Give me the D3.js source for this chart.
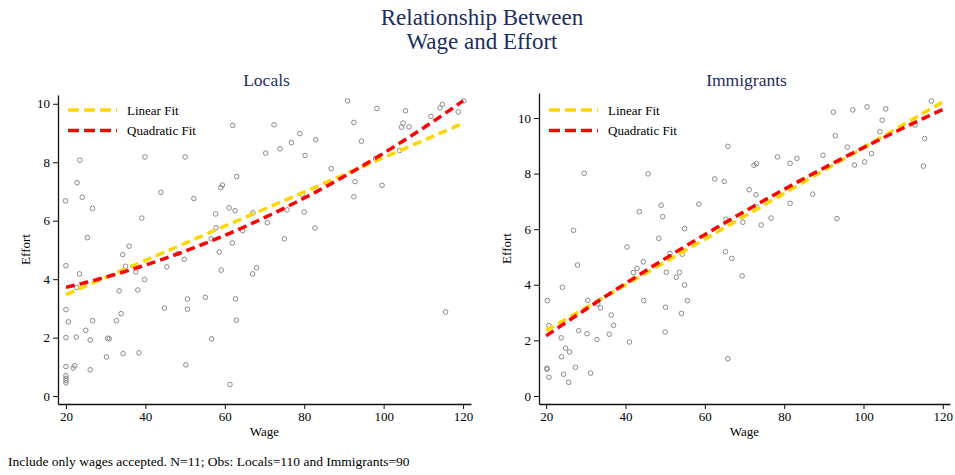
<!DOCTYPE html>
<html>
<head>
<meta charset="utf-8">
<script src="https://cdn.jsdelivr.net/npm/d3@7"></script>
<style>
  body { margin: 0; background: #fff; }
  svg text { font-family: "Liberation Serif", "Times New Roman", serif; }
</style>
</head>
<body>
<div id="chart"></div>
<script>
//Datos: salario (wage) y esfuerzo (effort)
const localsWage = [62.0, 23.5, 39.9, 50.0, 22.8, 19.9, 24.1, 26.7, 43.9, 52.2, 63.0, 59.4, 59.0, 61.1, 62.6, 57.7, 57.8, 67.1, 64.5, 56.6, 61.9, 25.4, 35.9, 39.1,
  90.9, 98.3, 105.5, 120.2, 114.8, 114.2, 118.8, 111.9, 92.5, 104.9, 104.5, 106.4, 72.4, 78.9, 76.8, 82.9, 73.9, 70.3, 80.2, 94.4, 104.0, 98.0, 86.8, 92.8, 99.6, 92.5, 79.5, 75.7, 70.7, 80.0, 82.7, 75.0,
  34.3, 20.0, 35.0, 23.4, 22.7, 37.6, 39.8, 33.4, 38.1, 48.2, 49.8, 45.4, 58.6, 59.1, 67.0, 68.0, 20.0, 20.6, 26.7, 32.7, 33.9, 44.8, 50.6, 50.6, 55.1, 62.7, 62.9, 25.0, 20.0, 22.6, 26.1, 30.5, 30.9, 56.7, 30.2, 34.4, 38.4, 20.0, 21.8, 22.2, 26.1, 50.2, 20.0, 20.0, 20.0, 20.0, 61.3,
  115.6];
const localsEffort = [9.26, 8.07, 8.18, 8.18, 7.30, 6.68, 6.80, 6.42, 6.97, 6.76, 7.51, 7.22, 7.13, 6.44, 6.34, 6.23, 5.76, 6.27, 5.66, 5.38, 5.24, 5.42, 5.13, 6.09,
  10.10, 9.84, 9.76, 10.10, 9.98, 9.86, 9.72, 9.57, 9.36, 9.34, 9.20, 9.21, 9.28, 8.98, 8.67, 8.77, 8.46, 8.31, 8.23, 8.72, 8.40, 8.12, 7.78, 7.34, 7.21, 6.82, 6.90, 6.37, 5.93, 6.30, 5.75, 5.38,
  4.84, 4.46, 4.44, 4.18, 3.72, 4.25, 3.99, 3.60, 3.63, 4.88, 4.68, 4.42, 4.93, 4.31, 4.18, 4.39, 2.96, 2.54, 2.58, 2.58, 2.82, 3.01, 3.32, 2.97, 3.38, 3.33, 2.60, 2.25, 2.00, 2.02, 1.92, 1.98, 1.96, 1.96, 1.34, 1.45, 1.48, 1.01, 0.96, 1.04, 0.90, 1.07, 0.70, 0.61, 0.53, 0.45, 0.40,
  2.88];

const immigWage = [65.8, 29.6, 45.7, 62.5, 64.9, 43.5, 49.0, 49.4, 58.5, 65.3, 26.9, 54.9, 48.4, 40.4, 65.2,
  117.1, 92.4, 97.3, 100.9, 105.6, 104.7, 104.1, 92.9, 113.0, 115.4, 115.1, 95.9, 102.0, 100.3, 97.7, 89.8, 78.3, 83.2, 81.5, 72.4, 73.0, 71.2, 72.9, 73.0, 87.2, 81.5, 76.7, 69.6, 74.2, 93.3,
  66.8, 69.4,
  27.9, 44.5, 51.2, 54.3, 42.9, 42.0, 50.3, 53.6, 52.8, 54.9, 24.1, 20.3, 30.5, 44.6, 55.6, 33.7, 50.1, 33.0, 36.4, 37.0, 54.1, 20.7, 28.2, 30.3, 35.9, 50.0, 23.8, 32.8, 41.0, 24.9, 25.9, 23.9, 27.4, 20.2, 20.2, 24.4, 31.2, 20.7, 25.7, 65.8];
const immigEffort = [8.98, 8.01, 7.99, 7.81, 7.72, 6.63, 6.86, 6.45, 6.90, 6.36, 5.96, 6.02, 5.67, 5.36, 5.19,
  10.61, 10.21, 10.29, 10.40, 10.33, 9.92, 9.51, 9.36, 9.75, 9.26, 8.27, 8.95, 8.72, 8.42, 8.31, 8.66, 8.60, 8.55, 8.37, 8.30, 8.36, 7.42, 7.24, 6.80, 7.26, 6.93, 6.40, 6.25, 6.15, 6.38,
  4.95, 4.32,
  4.71, 4.83, 5.13, 5.10, 4.59, 4.44, 4.45, 4.45, 4.27, 3.99, 3.91, 3.43, 3.44, 3.43, 3.43, 3.17, 3.19, 3.31, 2.91, 2.54, 2.97, 2.53, 2.35, 2.24, 2.22, 2.30, 2.09, 2.03, 1.94, 1.72, 1.58, 1.41, 1.03, 1.00, 0.96, 0.78, 0.82, 0.67, 0.49, 1.34];

//Coeficientes de los ajustes, en (wage - 20): [a, b, c]
const localsLinear = [3.47, 0.0586];
const localsQuad = [3.72, 0.0316, 0.000322];
const immigLinear = [2.35, 0.0823];
const immigQuad = [2.16, 0.0975, -0.00016];
const fitRange = [20, 120];

const xTicks = [20, 40, 60, 80, 100, 120];
const yTicks = [0, 2, 4, 6, 8, 10];
const fitNames = ['Linear Fit', 'Quadratic Fit'];

//Colores fijos
const COLOR_TITLE = '#1c2d5e',
COLOR_LINEAR = '#ffd700',
COLOR_QUAD = '#ff0000',
COLOR_POINT = '#8a8a8a';

function polyValue(coef, w) {
    let t = w - fitRange[0];
    return coef.reduce(function(acc, c, i) { return acc + c * Math.pow(t, i); }, 0);
}

const W = 955, H = 475;
let svg = d3.select('#chart').append('svg').attr('width', W).attr('height', H);

//Título
svg.append('text').attr('x', 482).attr('y', 25).attr('text-anchor', 'middle')
    .attr('font-size', 23).attr('fill', COLOR_TITLE).text('Relationship Between');
svg.append('text').attr('x', 482).attr('y', 49).attr('text-anchor', 'middle')
    .attr('font-size', 23).attr('fill', COLOR_TITLE).text('Wage and Effort');

//Nota
svg.append('text').attr('x', 8).attr('y', 466).attr('font-size', 13.5).attr('fill', '#000')
    .text('Include only wages accepted. N=11; Obs: Locals=110 and Immigrants=90');

function drawPanel(opts) {
    let x = d3.scaleLinear().domain(opts.xDomain).range([opts.left, opts.right]);
    let y = d3.scaleLinear().domain(opts.yDomain).range([opts.bottom, opts.top]);
    let g = svg.append('g');

    //Subtítulo
    g.append('text').attr('x', (opts.left + opts.right) / 2 + 2).attr('y', 86).attr('text-anchor', 'middle')
        .attr('font-size', 17.5).attr('fill', COLOR_TITLE).text(opts.title);

    //Ejes
    let xAxis = g.append('g').attr('transform', 'translate(0,' + opts.bottom + ')')
        .call(d3.axisBottom(x).tickValues(xTicks).tickSize(5).tickPadding(3).tickSizeOuter(0));
    let yAxis = g.append('g').attr('transform', 'translate(' + opts.left + ',0)')
        .call(d3.axisLeft(y).tickValues(yTicks).tickSize(5).tickPadding(3).tickSizeOuter(0));
    [xAxis, yAxis].forEach(function(a) {
        a.select('.domain').attr('stroke', '#111').attr('stroke-width', 1.3);
        a.selectAll('.tick line').attr('stroke', '#111').attr('stroke-width', 1);
        a.selectAll('.tick text').attr('font-family', '"Liberation Serif", serif').attr('font-size', 13).attr('fill', '#000');
    });

    //Títulos de ejes
    g.append('text').attr('x', (opts.left + opts.right) / 2).attr('y', 436).attr('text-anchor', 'middle')
        .attr('font-size', 13).text('Wage');
    g.append('text').attr('transform', 'translate(' + (opts.left - 28) + ',' + ((opts.top + opts.bottom) / 2) + ') rotate(-90)')
        .attr('text-anchor', 'middle').attr('font-size', 13).text('Effort');

    //Puntos
    g.selectAll('circle.pt').data(opts.wage).enter().append('circle')
        .attr('class', 'pt')
        .attr('cx', function(d) { return x(d); })
        .attr('cy', function(d, i) { return y(opts.effort[i]); })
        .attr('r', 2.3)
        .attr('fill', 'none').attr('stroke', COLOR_POINT).attr('stroke-width', 1);

    //Ajustes
    let grid = d3.range(0, 61).map(function(i) { return fitRange[0] + (fitRange[1] - fitRange[0]) * i / 60; });
    let fits = [opts.linear, opts.quad];
    let colors = [COLOR_LINEAR, COLOR_QUAD];
    let line = d3.line().x(function(d) { return x(d[0]); }).y(function(d) { return y(d[1]); });
    fits.forEach(function(coef, k) {
        g.append('path').datum(grid.map(function(w) { return [w, polyValue(coef, w)]; }))
            .attr('d', line).attr('fill', 'none').attr('stroke', colors[k])
            .attr('stroke-width', 3.5).attr('stroke-dasharray', '9,5');
    });

    //Leyenda
    fitNames.forEach(function(name, k) {
        let ly = 110 + k * 20.5;
        g.append('line').attr('x1', opts.left + 10).attr('x2', opts.left + 59).attr('y1', ly).attr('y2', ly)
            .attr('stroke', colors[k]).attr('stroke-width', 3.5).attr('stroke-dasharray', '11,5');
        g.append('text').attr('x', opts.left + 69).attr('y', ly + 4.5).attr('font-size', 13).text(name);
    });
}

drawPanel({ title: 'Locals', wage: localsWage, effort: localsEffort, linear: localsLinear, quad: localsQuad,
    xDomain: [18, 122], yDomain: [-0.27, 10.3], left: 58, right: 471, top: 95, bottom: 404 });
drawPanel({ title: 'Immigrants', wage: immigWage, effort: immigEffort, linear: immigLinear, quad: immigQuad,
    xDomain: [18.2, 121.8], yDomain: [-0.29, 10.9], left: 539, right: 950, top: 93, bottom: 404 });
</script>
</body>
</html>
